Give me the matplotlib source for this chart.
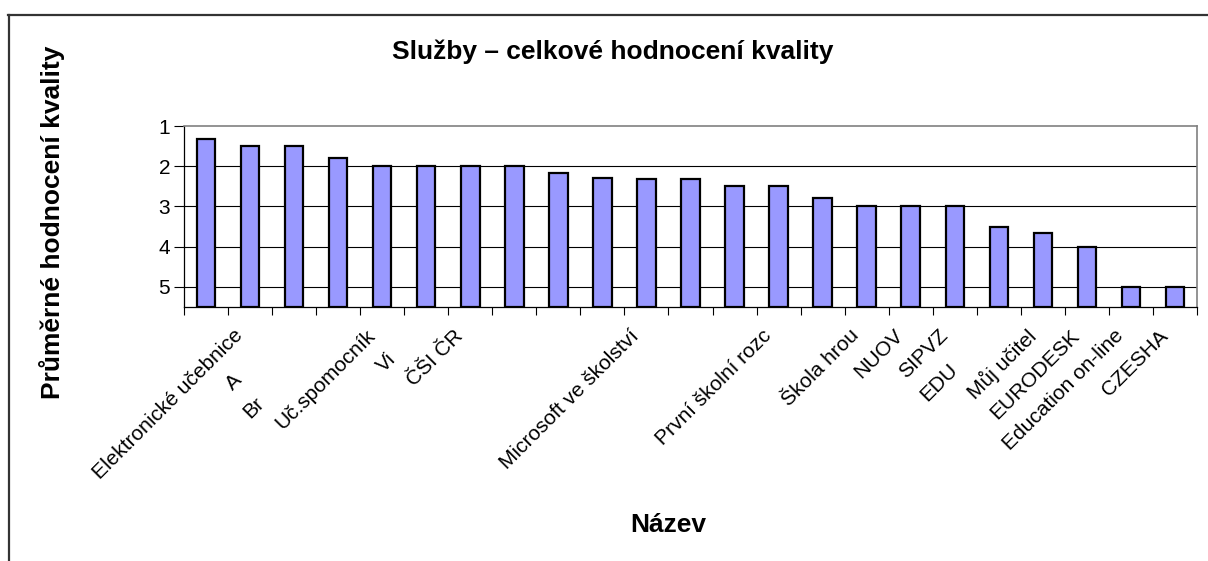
import numpy as np
import matplotlib
matplotlib.use('Agg')
import matplotlib.pyplot as plt
from matplotlib.lines import Line2D

plt.rcParams['font.family'] = ['Liberation Sans', 'DejaVu Sans']

# Data (1 = best, axis reversed)
labels = ['Elektronické učebnice', 'A', 'Br', 'Uč.spomocník', 'Vi', 'ČŠI ČR', '', '',
          '', 'Microsoft ve školství', '', '', 'První školní rozc', '', 'Škola hrou',
          'NUOV', 'SIPVZ', 'EDU', 'Můj učitel', 'EURODESK', 'Education on-line',
          'CZESHA', '']
values = [1.33, 1.5, 1.5, 1.8, 2.0, 2.0, 2.0, 2.0, 2.17, 2.29, 2.33, 2.33, 2.5, 2.5,
          2.8, 3.0, 3.0, 3.0, 3.5, 3.67, 4.0, 5.0, 5.0]
# hidden (overlapped) part of each label, in pixels along the text direction
label_cut = [0, 63, 95, 0, 33, 0, 0, 0, 0, 0, 0, 0, 0, 0, 0, 0, 0, 48, 0, 0, 0, 0, 0]

y_bottom = 5.5
y_ticks = [1, 2, 3, 4, 5]

W, H = 1208, 561
fig = plt.figure(figsize=(W / 100, H / 100), dpi=100)
ax = fig.add_axes([184 / W, 1 - 307 / H, 1013 / W, 181 / H])

x = np.arange(len(values))
heights = np.array(values) - y_bottom
ax.bar(x, heights, bottom=y_bottom, width=0.42, color='#9999FF',
       edgecolor='black', linewidth=1.6, zorder=3)

ax.set_xlim(-0.5, len(values) - 0.5)
ax.set_ylim(y_bottom, 1)
ax.set_yticks(y_ticks)
ax.set_yticklabels([str(t) for t in y_ticks], fontsize=15)
ax.tick_params(axis='y', direction='out', length=7, width=0.8, pad=3, color='black')
for t in y_ticks[1:]:
    ax.axhline(t, color='black', linewidth=0.8, zorder=1)

ax.set_xticks(np.arange(-0.5, len(values), 1))
ax.set_xticklabels([])
ax.tick_params(axis='x', direction='out', length=6, width=0.8, color='black')

ax.spines['left'].set_color('black')
ax.spines['bottom'].set_color('black')
ax.spines['left'].set_linewidth(0.9)
ax.spines['bottom'].set_linewidth(0.9)
ax.spines['top'].set_color('#808080')
ax.spines['right'].set_color('#808080')
ax.spines['top'].set_linewidth(1.2)
ax.spines['right'].set_linewidth(1.2)

# rotated category labels, right end hooked near each category
s = np.sqrt(2)
for i, (lab, cut) in enumerate(zip(labels, label_cut)):
    if not lab:
        continue
    ax.annotate(lab, xy=(i, 0), xycoords=ax.get_xaxis_transform(),
                xytext=(27 - cut / s, -19 - cut / s), textcoords='offset pixels',
                ha='right', va='top', rotation=45, rotation_mode='anchor',
                fontsize=15, annotation_clip=False)

fig.text(613 / W, 1 - 52 / H, 'Služby – celkové hodnocení kvality',
         ha='center', va='center', fontsize=19, fontweight='bold')
fig.text(52 / W, 1 - 222 / H, 'Průměrné hodnocení kvality', rotation=90,
         ha='center', va='center', fontsize=19, fontweight='bold')
fig.text(668 / W, 1 - 525 / H, 'Název', ha='center', va='center',
         fontsize=19, fontweight='bold')

# chart area border (only top and left visible)
fig.add_artist(Line2D([8 / W, 1], [1 - 15 / H, 1 - 15 / H], transform=fig.transFigure,
                      color='#333333', linewidth=1.6))
fig.add_artist(Line2D([9 / W, 9 / W], [0, 1 - 15 / H], transform=fig.transFigure,
                      color='#333333', linewidth=1.6))

fig.savefig('out.png', dpi=100)
